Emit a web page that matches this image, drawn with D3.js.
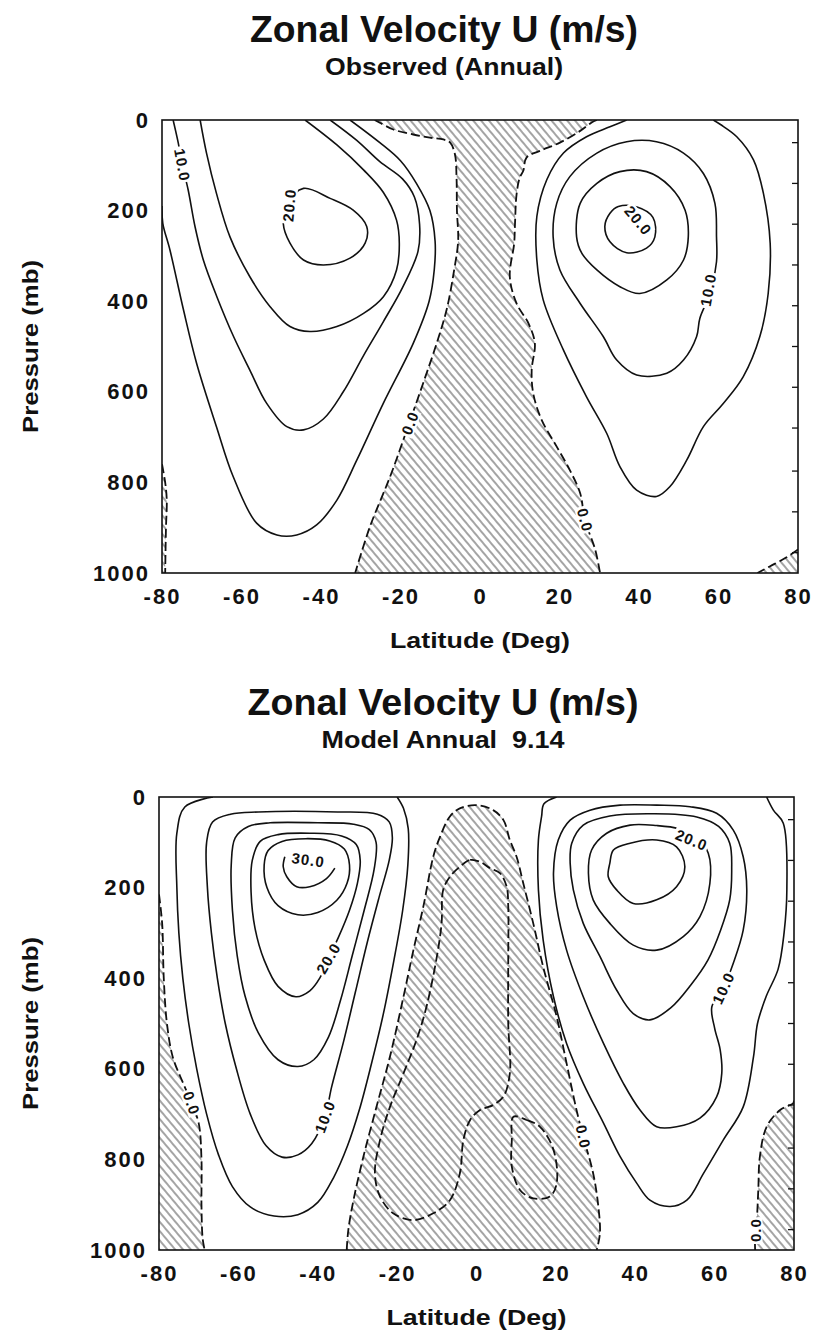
<!DOCTYPE html>
<html>
<head>
<meta charset="utf-8">
<script src="https://cdn.jsdelivr.net/npm/d3@7"></script>
<style>
  body { margin: 0; background: #fff; }
  svg text { font-family: "Liberation Sans", Arial, Helvetica, sans-serif; font-weight: bold; fill: #111; }
</style>
</head>
<body>
<div id="chart"></div>
<script>
// axis ticks
const latTicks = [-80, -60, -40, -20, 0, 20, 40, 60, 80];
const pressureTicks = [0, 200, 400, 600, 800, 1000];
const modelLevels = [50, 140, 230, 320, 410, 500, 590, 680, 775, 865, 955];

const titles = ["Zonal Velocity U (m/s)", "Zonal Velocity U (m/s)"];
const subtitles = ["Observed (Annual)", "Model Annual  9.14"];

// observed contours, points are [latitude, pressure]
const obsU0West = [[-26.5,0],[-25.2,6],[-21.8,21],[-16.8,32],[-12.6,39],[-9.2,43],[-7.5,50],[-6.3,76],[-5.9,128],[-5.8,200],[-5.5,267],[-6.5,331],[-8.4,419],[-10.9,493],[-14.3,581],[-18.4,684],[-22.6,787],[-27.7,898],[-31.4,1000]];
const obsU0East = [[29.4,0],[28,6],[25.2,24],[20.1,50],[15.1,68],[11.7,83],[10.9,112],[10,127],[9.2,164],[8.8,230],[8.6,272],[7.5,346],[9.2,405],[12.2,449],[13.8,493],[13,552],[13.4,604],[15.5,662],[19.3,721],[22.6,773],[25.2,824],[26.4,883],[29,949],[30.2,1000]];
const obsU0SW = [[-80,760],[-79.2,800],[-78.8,840],[-79,900],[-79.2,1000]];
const obsU0SE = [[80,948],[77,966],[73,985],[69.8,1000]];

const obsU5West = [[-80,190],[-79.8,228],[-78,287],[-74.6,419],[-71.3,537],[-66.3,677],[-62.1,787],[-56.2,890],[-51.1,916],[-46.1,916],[-41.1,894],[-36,839],[-31,751],[-24.3,625],[-16.8,493],[-12.8,400],[-11.5,330],[-11.3,267],[-12.6,200],[-16,140],[-20,90],[-25.2,50],[-32.7,0]];
const obsU10West = [[-77.2,0],[-75.9,51],[-74.9,99],[-73.4,155],[-71.7,235],[-69.6,309],[-66.2,390],[-62,478],[-57.9,552],[-53.7,625],[-48.6,677],[-44.4,684],[-39.4,660],[-34.4,600],[-29.3,520],[-24.3,445],[-19.5,370],[-15.6,290],[-15.2,230],[-16.5,170],[-19.5,130],[-25.2,92],[-31,45],[-37.7,0]];
const obsU15West = [[-70.4,0],[-68.8,73],[-66.3,162],[-62.9,258],[-57.9,346],[-52.8,412],[-47.8,456],[-42.8,467],[-36,456],[-29.3,427],[-24.3,390],[-21,331],[-20.3,272],[-21,221],[-24.3,160],[-29.3,110],[-36,55],[-44,0]];
const obsU20West = [[-44.4,151],[-37.7,173],[-31.9,199],[-28.5,235],[-28.9,272],[-32.7,305],[-39.4,320],[-44.4,309],[-47.8,272],[-49.5,228],[-48.5,185]];

const obsU5East = [[36.9,0],[32.7,15],[26.8,37],[21,73],[16.8,132],[14.3,213],[14.3,309],[15.9,397],[21,508],[26.8,611],[31.9,692],[35.2,765],[39.4,817],[44.4,831],[47.8,809],[52,751],[56.2,677],[61.2,626],[66.2,567],[70.4,478],[72.5,383],[73,272],[71.3,162],[68.8,88],[64.6,37],[60.5,10],[58.7,0]];
const obsU10East = [[55.3,438],[54.5,478],[51.2,530],[47,559],[39.4,563],[34.4,530],[31,478],[25.2,405],[20.1,331],[18.4,258],[19.3,184],[22.6,125],[29.4,73],[36.9,48],[44.4,48],[51.2,73],[56.2,118],[59.1,184],[59.5,258],[59.5,313],[58,380]];
const obsU15East = [[24.3,258],[25.2,184],[29.4,140],[35.2,114],[41.9,114],[47.8,147],[51.6,199],[52.4,258],[51.2,309],[47,353],[40.2,383],[35.2,368],[29.4,331],[25.6,294]];
const obsU20East = [[44,258],[41.9,283],[36.9,293],[32.7,269],[31.4,235],[32.7,206],[34.8,191],[39.5,192],[43.5,215]];

// [text, latitude, pressure, angle]
const obsLabels = [["10.0",-74.9,99,80],["20.0",-48,188,-85],["0.0",-17.6,669,-70],["20.0",39.8,222,50],["10.0",57.4,375,-80],["0.0",26.4,883,75]];

// model contours
const modU0Center = [[-32.7,1000],[-32.3,956],[-31,890],[-28.5,794],[-25.2,684],[-21.8,573],[-18.4,441],[-15.9,338],[-13.4,242],[-10.9,132],[-9.2,88],[-6.7,43],[-4.2,25],[0,18],[4.2,29],[6.8,51],[8.4,95],[10.1,132],[11.8,191],[14.3,279],[16.8,375],[20.2,485],[22.7,588],[25.2,691],[26.9,750],[29.4,831],[30.7,904],[31.1,963],[30.3,1000]];
const modU0West = [[-80,215],[-79.2,280],[-78.8,400],[-78,500],[-76.5,575],[-74,630],[-71.8,676],[-70,720],[-69.3,800],[-69.3,900],[-69,975],[-68.5,1000]];
const modU0East = [[80,670],[79.8,676],[76.5,691],[73.1,728],[71.4,794],[71,868],[70.6,934],[70.2,956],[70.2,1000]];
const modUm5A = [[-4.2,154],[-1.6,139],[0.9,143],[3.4,157],[5.9,168],[7.6,198],[8,242],[8,353],[8,500],[8.4,610],[6.8,661],[4.2,680],[0.9,691],[-1.6,713],[-3.3,757],[-4.2,831],[-6.7,890],[-10.9,919],[-15.9,934],[-21,919],[-24.3,882],[-25.6,831],[-24.3,757],[-21.8,684],[-18.4,610],[-15.1,536],[-12.6,463],[-10,353],[-8.8,279],[-8.4,205],[-6.7,176]];
const modUm5B = [[9.3,706],[12.6,713],[16,728],[19.4,779],[20.2,853],[18.5,882],[14.3,886],[11,868],[8.9,816],[8.9,757]];

const modU5West = [[-66.4,0],[-73.5,22],[-75.5,80],[-75.5,200],[-75,300],[-74,400],[-72.5,500],[-70.5,600],[-68,700],[-65,790],[-61.5,860],[-57,905],[-51,925],[-45,922],[-40,895],[-36,840],[-32.5,770],[-29.5,690],[-26.5,590],[-23.5,480],[-20.8,360],[-18.6,250],[-17.3,150],[-17.2,70],[-18.4,25],[-20,0]];
const modU10West = [[-38.2,706],[-36.5,640],[-33.5,540],[-30.5,430],[-27.5,320],[-24.5,220],[-22,140],[-21.2,90],[-22,55],[-25,38],[-35,33],[-55,33],[-62,38],[-66.5,55],[-68,100],[-67.8,200],[-66.8,300],[-65.3,400],[-63.3,500],[-60.5,600],[-57,700],[-53,770],[-49,795],[-45,790],[-41.5,765]];
const modU15West = [[-45,595],[-41,580],[-37.3,530],[-34.3,450],[-31.3,350],[-28.3,250],[-25.8,160],[-25.3,100],[-27,72],[-31,60],[-40,57],[-52,57],[-57.5,65],[-60.8,90],[-61.8,150],[-61.5,250],[-60.3,350],[-58.3,440],[-55,520],[-50,580]];
const modU20West = [[-37.3,356],[-34.8,310],[-32,250],[-30,190],[-29.3,140],[-30.3,105],[-34,86],[-42,80],[-50,83],[-54.5,98],[-56.5,140],[-56.8,210],[-55.8,290],[-53.5,360],[-50,418],[-45.5,441],[-42,428],[-39.5,400]];
const modU25West = [[-53.5,150],[-52.5,118],[-49,98],[-43,92],[-37,97],[-33.3,115],[-32,150],[-32.6,190],[-35.2,228],[-40,255],[-45,260],[-50,240],[-52.8,200]];
const modU30West = [[-35.7,157],[-37.8,180],[-42,198],[-45.3,198],[-47.8,176],[-48.7,154],[-48.3,132]];

const modU5East = [[20.2,0],[17,15],[16.4,43],[15.6,95],[15.6,205],[16.8,316],[19.4,441],[22.7,544],[26.9,632],[32,720],[36.2,794],[40.4,853],[43.7,890],[48.8,904],[53,890],[57.2,831],[62.2,757],[67.2,684],[69.8,573],[70.8,500],[73,440],[76,380],[77.5,300],[78.2,205],[77.3,58],[74.8,29],[73.1,0]];
const modU10East = [[62.2,422],[59.3,463],[60,510],[61.4,558],[61.8,610],[60.5,662],[56.3,709],[50.4,728],[45.4,728],[41.2,691],[37,632],[32,544],[26.9,441],[22.7,338],[20.2,242],[19.4,168],[20.6,95],[23.6,51],[28.6,29],[36.2,18],[45.4,18],[53.8,21.5],[60.5,36],[64.7,73],[67.2,132],[68.1,205],[67.2,294],[64.7,367]];
const modU15East = [[24,102],[26.9,62],[33.6,42],[44.6,37],[55.5,44],[61,65],[63.8,102],[64.3,161],[63.8,227],[61.5,294],[58.3,360],[54,415],[49,465],[43.7,492],[39.5,478],[35.3,426],[31.1,352],[26.9,279],[24.4,205],[23.6,146]];
const modU20East = [[58.4,124],[58.8,191],[56.3,264],[52.1,308],[45.4,338],[39.5,327],[33.6,279],[29.4,227],[28.2,168],[29,117],[32.8,80],[38.7,62],[45.4,63],[51,70],[55.5,88]];
const modU25East = [[33.6,146],[34.5,117],[38.7,102],[45.4,95],[50.4,110],[52.5,154],[50.4,198],[45.4,227],[39.5,235],[35.3,205],[33.2,176]];

const modLabels = [["30.0",-42.4,139,8],["20.0",-37.3,356,-60],["10.0",-38.2,706,-70],["0.0",-71.8,676,70],["0.0",26.9,750,78],["20.0",54.2,95,22],["10.0",62.2,422,-65],["0.0",70.2,956,-90]];

const observed = {
  open: [obsU5West, obsU10West, obsU15West, obsU5East],
  closed: [obsU20West, obsU10East, obsU15East, obsU20East],
  dashedOpen: [obsU0West, obsU0East, obsU0SW, obsU0SE],
  dashedClosed: [],
  hatch: [
    { between: [obsU0West, obsU0East] },
    { edge: obsU0SW, side: "left" },
    { edge: obsU0SE, side: "right" },
  ],
  labels: obsLabels,
};

const model = {
  open: [modU5West, modU30West, modU5East],
  closed: [modU10West, modU15West, modU20West, modU25West, modU10East, modU15East, modU20East, modU25East],
  dashedOpen: [modU0Center, modU0West, modU0East],
  dashedClosed: [modUm5A, modUm5B],
  hatch: [
    { edge: modU0Center, side: "bottom" },
    { edge: modU0West, side: "left" },
    { edge: modU0East, side: "right" },
  ],
  labels: modLabels,
};

const panels = [
  { spec: observed, left: 162, right: 798, top: 120, bottom: 573, titleY: 42, subY: 75, titleW: 388, subW: 238, cx: 444 },
  { spec: model, left: 159, right: 794, top: 797, bottom: 1250, titleY: 715, subY: 748, titleW: 391, subW: 243, cx: 443 },
];

const svg = d3
  .select("#chart")
  .append("svg")
  .attr("width", 815)
  .attr("height", 1333);

// diagonal hatching for easterlies
svg
  .append("defs")
  .append("pattern")
  .attr("id", "hatch")
  .attr("patternUnits", "userSpaceOnUse")
  .attr("width", 6)
  .attr("height", 6)
  .attr("patternTransform", "rotate(-40)")
  .append("line")
  .attr("x1", 3)
  .attr("y1", -1)
  .attr("x2", 3)
  .attr("y2", 7)
  .attr("stroke", "#4a4a4a")
  .attr("stroke-width", 1);

panels.forEach((panel, i) => {
  const spec = panel.spec;
  const x = d3.scaleLinear().domain([-80, 80]).range([panel.left, panel.right]);
  const y = d3.scaleLinear().domain([0, 1000]).range([panel.top, panel.bottom]);

  const line = d3
    .line()
    .x((d) => x(d[0]))
    .y((d) => y(d[1]))
    .curve(d3.curveCatmullRom.alpha(0.5));
  const loop = d3
    .line()
    .x((d) => x(d[0]))
    .y((d) => y(d[1]))
    .curve(d3.curveCatmullRomClosed.alpha(0.5));

  const clipId = "clip" + i;
  svg
    .select("defs")
    .append("clipPath")
    .attr("id", clipId)
    .append("rect")
    .attr("x", panel.left)
    .attr("y", panel.top)
    .attr("width", panel.right - panel.left)
    .attr("height", panel.bottom - panel.top);

  // titles
  svg
    .append("text")
    .attr("x", panel.cx)
    .attr("y", panel.titleY)
    .attr("text-anchor", "middle")
    .attr("font-size", 36)
    .attr("textLength", panel.titleW)
    .attr("lengthAdjust", "spacingAndGlyphs")
    .text(titles[i]);
  svg
    .append("text")
    .attr("x", panel.cx)
    .attr("y", panel.subY)
    .attr("text-anchor", "middle")
    .attr("font-size", 24)
    .attr("textLength", panel.subW)
    .attr("lengthAdjust", "spacingAndGlyphs")
    .style("white-space", "pre")
    .text(subtitles[i]);

  const plot = svg.append("g").attr("clip-path", `url(#${clipId})`);

  // hatched regions where U < 0
  const xl = panel.left - 4,
    xr = panel.right + 4,
    yt = panel.top - 4,
    yb = panel.bottom + 4;
  const hatchPath = (h) => {
    if (h.between) {
      const [w, e] = h.between;
      const back = line(e.slice().reverse()).replace(/^M/, "L");
      return (
        line(w) +
        `L${x(w[w.length - 1][0])},${yb}L${x(e[e.length - 1][0])},${yb}` +
        back +
        `L${x(e[0][0])},${yt}L${x(w[0][0])},${yt}Z`
      );
    }
    const pts = h.edge;
    const first = pts[0],
      last = pts[pts.length - 1];
    if (h.side === "bottom") {
      return line(pts) + `L${x(last[0])},${yb}L${x(first[0])},${yb}Z`;
    }
    const xe = h.side === "left" ? xl : xr;
    return line(pts) + `L${x(last[0])},${yb}L${xe},${yb}L${xe},${y(first[1])}Z`;
  };
  plot
    .selectAll(".hatch")
    .data(spec.hatch)
    .enter()
    .append("path")
    .attr("d", hatchPath)
    .attr("fill", "url(#hatch)")
    .attr("stroke", "none");

  const solid = { stroke: "#111", width: 1.6 };
  plot
    .selectAll(".open")
    .data(spec.open)
    .enter()
    .append("path")
    .attr("d", line)
    .attr("fill", "none")
    .attr("stroke", solid.stroke)
    .attr("stroke-width", solid.width);
  plot
    .selectAll(".closed")
    .data(spec.closed)
    .enter()
    .append("path")
    .attr("d", loop)
    .attr("fill", "none")
    .attr("stroke", solid.stroke)
    .attr("stroke-width", solid.width);
  plot
    .selectAll(".dopen")
    .data(spec.dashedOpen)
    .enter()
    .append("path")
    .attr("d", line)
    .attr("fill", "none")
    .attr("stroke", solid.stroke)
    .attr("stroke-width", 1.8)
    .attr("stroke-dasharray", "9,4");
  plot
    .selectAll(".dclosed")
    .data(spec.dashedClosed)
    .enter()
    .append("path")
    .attr("d", loop)
    .attr("fill", "none")
    .attr("stroke", solid.stroke)
    .attr("stroke-width", 1.8)
    .attr("stroke-dasharray", "9,4");

  // contour labels with a white gap behind them
  const labels = plot
    .selectAll(".label")
    .data(spec.labels)
    .enter()
    .append("g")
    .attr("transform", (d) => `translate(${x(d[1])},${y(d[2])}) rotate(${d[3]})`);
  labels
    .append("text")
    .attr("text-anchor", "middle")
    .attr("dy", "0.36em")
    .attr("font-size", 15)
    .attr("letter-spacing", 1)
    .text((d) => d[0]);
  labels.each(function () {
    const g = d3.select(this);
    const b = g.select("text").node().getBBox();
    g.insert("rect", "text")
      .attr("x", b.x - 2)
      .attr("y", b.y + 1)
      .attr("width", b.width + 3)
      .attr("height", b.height - 2)
      .attr("fill", "#fff");
  });

  // frame
  svg
    .append("rect")
    .attr("x", panel.left)
    .attr("y", panel.top)
    .attr("width", panel.right - panel.left)
    .attr("height", panel.bottom - panel.top)
    .attr("fill", "none")
    .attr("stroke", "#111")
    .attr("stroke-width", 1.6);

  // model level marks on the right border
  svg
    .selectAll(".lev" + i)
    .data(modelLevels)
    .enter()
    .append("line")
    .attr("x1", panel.right)
    .attr("x2", panel.right - 6)
    .attr("y1", (d) => y(d))
    .attr("y2", (d) => y(d))
    .attr("stroke", "#111")
    .attr("stroke-width", 1.3);

  // axes
  const yAxis = svg
    .append("g")
    .attr("transform", `translate(${panel.left},0)`)
    .call(d3.axisLeft(y).tickValues(pressureTicks).tickSize(0).tickPadding(12).tickFormat((d) => String(d)));
  const xAxis = svg
    .append("g")
    .attr("transform", `translate(0,${panel.bottom})`)
    .call(d3.axisBottom(x).tickValues(latTicks).tickSize(0).tickPadding(15).tickFormat((d) => String(d)));
  [yAxis, xAxis].forEach((a) => {
    a.select(".domain").remove();
    a.selectAll("text")
      .attr("font-size", 22)
      .attr("letter-spacing", 2)
      .attr("fill", "#111")
      .style("font-family", '"Liberation Sans", Arial, sans-serif')
      .style("font-weight", "bold");
  });

  svg
    .append("text")
    .attr("x", (panel.left + panel.right) / 2)
    .attr("y", panel.bottom + 75)
    .attr("text-anchor", "middle")
    .attr("font-size", 22)
    .attr("textLength", 180)
    .attr("lengthAdjust", "spacingAndGlyphs")
    .text("Latitude (Deg)");

  svg
    .append("text")
    .attr("transform", `translate(38,${(panel.top + panel.bottom) / 2}) rotate(-90)`)
    .attr("text-anchor", "middle")
    .attr("font-size", 22)
    .attr("textLength", 173)
    .attr("lengthAdjust", "spacingAndGlyphs")
    .text("Pressure (mb)");
});
</script>
</body>
</html>
